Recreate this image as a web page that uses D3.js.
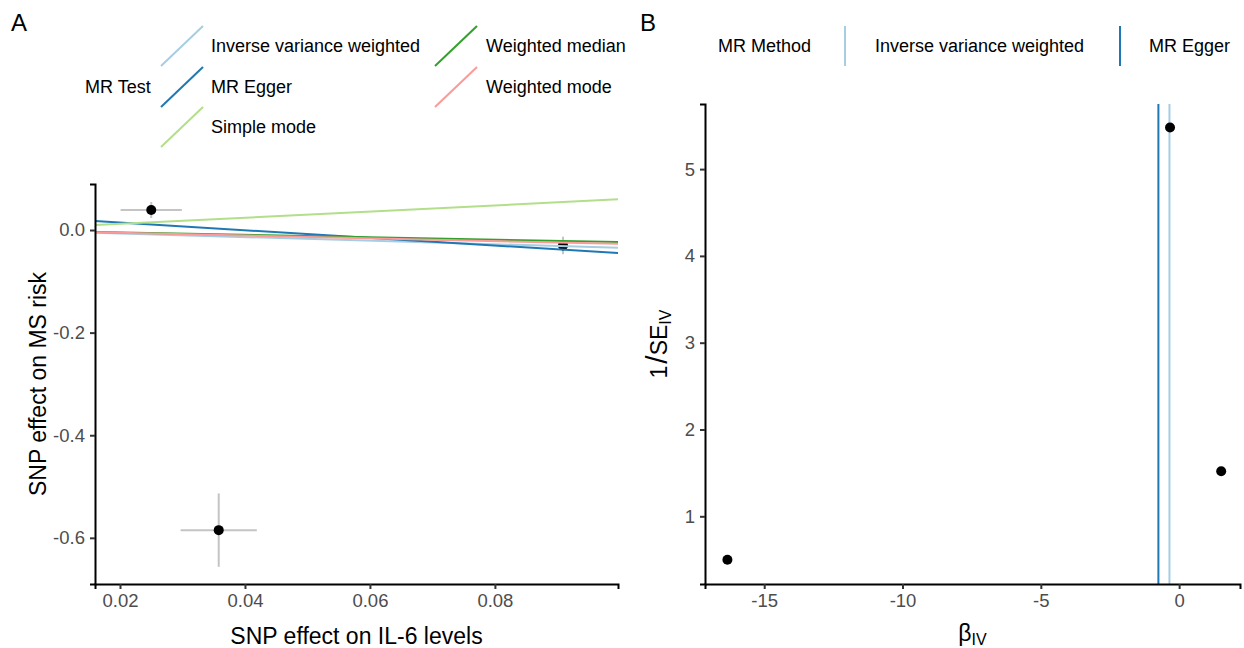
<!DOCTYPE html>
<html>
<head>
<meta charset="utf-8">
<script src="https://cdn.jsdelivr.net/npm/d3@7"></script>
<style>
  body { margin: 0; background: #fff; }
  svg { display: block; font-family: "Liberation Sans", Arial, sans-serif; }
</style>
</head>
<body>
<svg id="chart" width="1244" height="648"></svg>
<script>
// ---- Panel A: SNP-level estimates (IL-6 levels vs MS risk) ----
const snpBetaExposure = [0.025, 0.0358, 0.0909];
const snpSeExposure   = [0.0049, 0.0061, 0.0008];
const snpBetaOutcome  = [0.039, -0.585, -0.030];
const snpSeOutcome    = [0.0155, 0.0715, 0.0170];

// MR method fits: slope and intercept (only MR Egger has an intercept)
const methodNames      = ["Inverse variance weighted", "MR Egger", "Simple mode", "Weighted median", "Weighted mode"];
const methodSlopes     = [-0.346, -0.747, 0.600, -0.235, -0.270];
const methodIntercepts = [0, 0.0295, 0, 0, 0];
const methodColors     = ["#A6CEE3", "#1F78B4", "#B2DF8A", "#33A02C", "#FB9A99"];

const xTicksA = [0.02, 0.04, 0.06, 0.08];
const yTicksA = [0.0, -0.2, -0.4, -0.6];

// ---- Panel B: funnel plot ----
const ivBeta    = [-16.33, -0.33, 1.52];
const ivInvSe   = [0.50, 5.48, 1.52];
const funnelMethods = ["Inverse variance weighted", "MR Egger"];
const funnelBeta    = [-0.35, -0.75];
const funnelColors  = ["#A6CEE3", "#1F78B4"];
const xTicksB = [-15, -10, -5, 0];
const yTicksB = [1, 2, 3, 4, 5];

const svg = d3.select("#chart");
const tickColor = "#4D4D4D";

// plain hyphen-minus for negative tick labels
const fmt = spec => { const f = d3.format(spec); return d => f(d).replace("\u2212", "-"); };

function styleAxis(g) {
  g.select(".domain").attr("stroke", "#000").attr("stroke-width", 2);
  g.selectAll(".tick line").attr("stroke", "#333").attr("stroke-width", 2);
  g.selectAll(".tick text").attr("fill", tickColor).attr("font-size", 18.5)
    .attr("font-family", "Liberation Sans, Arial, sans-serif");
}

// ================= Panel A =================
const A = { left: 95, right: 618, top: 184, bottom: 584 };
const xA = d3.scaleLinear().domain([0.016, 0.0997]).range([A.left, A.right]);
const yA = d3.scaleLinear().domain([-0.690, 0.0897]).range([A.bottom, A.top]);

const gA = svg.append("g");
svg.append("clipPath").attr("id", "clipA").append("rect")
  .attr("x", A.left).attr("y", A.top).attr("width", A.right - A.left).attr("height", A.bottom - A.top);

const plotA = gA.append("g").attr("clip-path", "url(#clipA)");
const errColor = "#C4C4C4";
// vertical error bars
plotA.selectAll("line.ev").data(snpBetaExposure).join("line")
  .attr("x1", d => xA(d)).attr("x2", d => xA(d))
  .attr("y1", (d, i) => yA(snpBetaOutcome[i] - snpSeOutcome[i]))
  .attr("y2", (d, i) => yA(snpBetaOutcome[i] + snpSeOutcome[i]))
  .attr("stroke", errColor).attr("stroke-width", 2);
// horizontal error bars
plotA.selectAll("line.eh").data(snpBetaExposure).join("line")
  .attr("x1", (d, i) => xA(d - snpSeExposure[i])).attr("x2", (d, i) => xA(d + snpSeExposure[i]))
  .attr("y1", (d, i) => yA(snpBetaOutcome[i])).attr("y2", (d, i) => yA(snpBetaOutcome[i]))
  .attr("stroke", errColor).attr("stroke-width", 2);
// points
plotA.selectAll("circle").data(snpBetaExposure).join("circle")
  .attr("cx", d => xA(d)).attr("cy", (d, i) => yA(snpBetaOutcome[i]))
  .attr("r", 5).attr("fill", "#000");
// fitted lines across the whole panel
const [x0, x1] = xA.domain();
plotA.selectAll("line.fit").data(methodNames).join("line")
  .attr("x1", xA(x0)).attr("x2", xA(x1))
  .attr("y1", (d, i) => yA(methodIntercepts[i] + methodSlopes[i] * x0))
  .attr("y2", (d, i) => yA(methodIntercepts[i] + methodSlopes[i] * x1))
  .attr("stroke", (d, i) => methodColors[i]).attr("stroke-width", 2);

gA.append("g").attr("transform", `translate(0,${A.bottom})`)
  .call(d3.axisBottom(xA).tickValues(xTicksA).tickFormat(fmt(".2f")).tickSizeOuter(0).tickSize(5).tickPadding(5))
  .call(styleAxis);
gA.append("g").attr("transform", `translate(${A.left},0)`)
  .call(d3.axisLeft(yA).tickValues(yTicksA).tickFormat(fmt(".1f")).tickSizeOuter(0).tickSize(5).tickPadding(5))
  .call(styleAxis);

gA.append("text").attr("x", (A.left + A.right) / 2).attr("y", 644)
  .attr("text-anchor", "middle").attr("font-size", 23).text("SNP effect on IL-6 levels");
gA.append("text").attr("transform", `translate(46,${(A.top + A.bottom) / 2}) rotate(-90)`)
  .attr("text-anchor", "middle").attr("font-size", 23).text("SNP effect on MS risk");

svg.append("text").attr("x", 11).attr("y", 31).attr("font-size", 24).text("A");

// legend A (two columns, filled column-wise)
const legA = svg.append("g");
legA.append("text").attr("x", 85).attr("y", 87).attr("dy", "0.35em").attr("font-size", 18).text("MR Test");
const legCols = [{ kx: 161, tx: 211 }, { kx: 435, tx: 486 }];
const legRows = [46, 87, 127];
methodNames.forEach((name, i) => {
  const c = legCols[Math.floor(i / 3)], cy = legRows[i % 3];
  legA.append("line").attr("x1", c.kx).attr("y1", cy + 20).attr("x2", c.kx + 42).attr("y2", cy - 20)
    .attr("stroke", methodColors[i]).attr("stroke-width", 2);
  legA.append("text").attr("x", c.tx).attr("y", cy).attr("dy", "0.35em").attr("font-size", 18).text(name);
});

// ================= Panel B =================
const B = { left: 705, right: 1240, top: 104, bottom: 584 };
const xB = d3.scaleLinear().domain([-17.14, 2.2]).range([B.left, B.right]);
const yB = d3.scaleLinear().domain([0.22, 5.75]).range([B.bottom, B.top]);
const gB = svg.append("g");

gB.selectAll("line.fm").data(funnelBeta).join("line")
  .attr("x1", d => xB(d)).attr("x2", d => xB(d))
  .attr("y1", B.top).attr("y2", B.bottom)
  .attr("stroke", (d, i) => funnelColors[i]).attr("stroke-width", 2);
gB.selectAll("circle").data(ivBeta).join("circle")
  .attr("cx", d => xB(d)).attr("cy", (d, i) => yB(ivInvSe[i]))
  .attr("r", 5).attr("fill", "#000");

gB.append("g").attr("transform", `translate(0,${B.bottom})`)
  .call(d3.axisBottom(xB).tickValues(xTicksB).tickFormat(fmt("d")).tickSizeOuter(0).tickSize(5).tickPadding(5))
  .call(styleAxis);
gB.append("g").attr("transform", `translate(${B.left},0)`)
  .call(d3.axisLeft(yB).tickValues(yTicksB).tickFormat(fmt("d")).tickSizeOuter(0).tickSize(5).tickPadding(5))
  .call(styleAxis);

const xtB = gB.append("text").attr("x", (B.left + B.right) / 2).attr("y", 641).attr("text-anchor", "middle");
xtB.append("tspan").attr("font-size", 23).text("β");
xtB.append("tspan").attr("font-size", 16).attr("dy", 4).text("IV");

const ytB = gB.append("text").attr("transform", `translate(667,${(B.top + B.bottom) / 2}) rotate(-90)`)
  .attr("text-anchor", "middle");
ytB.append("tspan").attr("font-size", 23).text("1");
ytB.append("tspan").attr("font-size", 30).attr("dx", 2).text("/");
ytB.append("tspan").attr("font-size", 23).text("SE");
ytB.append("tspan").attr("font-size", 16).attr("dy", 4).text("IV");

svg.append("text").attr("x", 640).attr("y", 31).attr("font-size", 24).text("B");

// legend B (single row)
const legB = svg.append("g");
legB.append("text").attr("x", 718).attr("y", 46).attr("dy", "0.35em").attr("font-size", 18).text("MR Method");
const legBKeys = [{ kx: 845, tx: 875 }, { kx: 1120, tx: 1149 }];
funnelMethods.forEach((name, i) => {
  const k = legBKeys[i];
  legB.append("line").attr("x1", k.kx).attr("x2", k.kx).attr("y1", 26).attr("y2", 66)
    .attr("stroke", funnelColors[i]).attr("stroke-width", 2);
  legB.append("text").attr("x", k.tx).attr("y", 46).attr("dy", "0.35em").attr("font-size", 18).text(name);
});
</script>
</body>
</html>
